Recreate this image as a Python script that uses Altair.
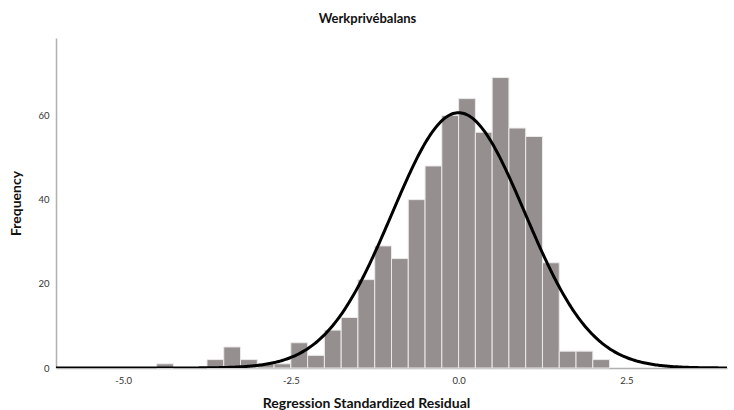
import altair as alt
import pandas as pd

# Histogram bins (left edges, width 0.25) and frequencies
bin_start = [-4.5, -3.75, -3.5, -3.25, -3.0, -2.75, -2.5, -2.25, -2.0, -1.75,
             -1.5, -1.25, -1.0, -0.75, -0.5, -0.25, 0.0, 0.25, 0.5, 0.75,
             1.0, 1.25, 1.5, 1.75, 2.0]
counts = [1, 2, 5, 2, 1, 1, 6, 3, 9, 12,
          21, 29, 26, 40, 48, 60, 64, 56, 69, 57,
          55, 25, 4, 4, 2]
bin_width = 0.25

# Normal curve parameters
fit_mean = 0.0
fit_sd = 0.99
n_total = sum(counts)

x_ticks = [-5.0, -2.5, 0.0, 2.5]
y_ticks = [0, 20, 40, 60]
x_domain = [-6, 4]
y_domain = [0, 78.4]

df = pd.DataFrame({"start": bin_start, "count": counts})
df["end"] = df["start"] + bin_width

xscale = alt.Scale(domain=x_domain, nice=False, zero=False)
yscale = alt.Scale(domain=y_domain, nice=False)

bars = alt.Chart(df).mark_bar(
    color="#958f8f", stroke="#ece9e9", strokeWidth=1
).encode(
    x=alt.X("start:Q", scale=xscale,
            axis=alt.Axis(values=x_ticks, title="Regression Standardized Residual",
                          labelExpr="datum.value < 0 ? '-' + format(-datum.value, '.1f') : format(datum.value, '.1f')",
                          titleX=310, titleAlign="center", titleY=28)),
    x2="end:Q",
    y=alt.Y("count:Q", scale=yscale,
            axis=alt.Axis(values=y_ticks, title="Frequency", titlePadding=14)),
    y2=alt.datum(0),
)

curve = alt.Chart(alt.sequence(start=x_domain[0], stop=x_domain[1] + 0.001, step=0.02, as_="x")).transform_calculate(
    y=f"{n_total} * {bin_width} * densityNormal(datum.x, {fit_mean}, {fit_sd})"
).mark_line(color="black", strokeWidth=3, clip=True).encode(
    x=alt.X("x:Q", scale=xscale),
    y=alt.Y("y:Q", scale=yscale),
)

chart = alt.layer(bars, curve).properties(
    width=671, height=330,
    autosize="none",
    padding={"left": 56, "top": 38, "right": 7, "bottom": 42},
    title=alt.TitleParams("Werkprivébalans", anchor="middle", dx=-24, offset=12,
                          font="Lato", fontSize=13, fontWeight="bold", color="#111"),
).configure_view(stroke=None).configure_axis(
    grid=False, ticks=False,
    domainColor="#b0b0b0", domainWidth=1.5,
    labelFont="Lato", labelFontSize=9.5, labelColor="#333", labelPadding=7,
    titleFont="Lato", titleFontSize=14, titleFontWeight="bold", titleColor="#111",
)

chart.save("out.html", embed_options={"renderer": "svg", "actions": False})
